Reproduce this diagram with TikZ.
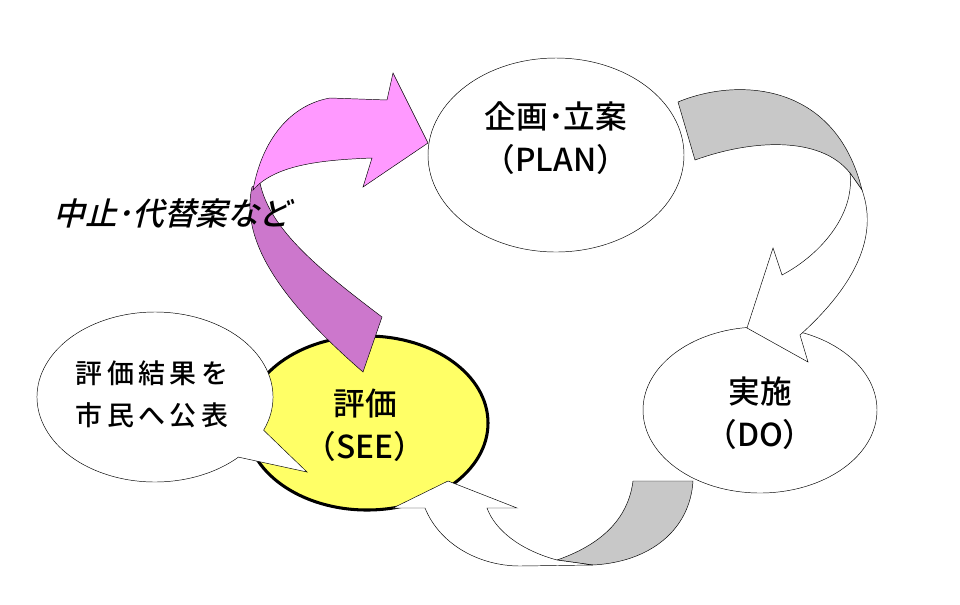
\documentclass[tikz,border=0pt]{standalone}
\usepackage{fontspec}
\setmainfont{Noto Sans CJK JP}
\newfontfamily\jp{Noto Sans CJK JP Medium}
\usetikzlibrary{shapes.geometric}
\definecolor{pinkLight}{HTML}{FF99FF}
\definecolor{pinkDark}{HTML}{CC77CC}
\definecolor{ribbonGrey}{HTML}{C8C8C8}
\definecolor{seeYellow}{HTML}{FFFF66}
\tikzset{stage/.style={draw=black, fill=white, thin}}
\tikzset{ribbon/.style={draw=black, thin, line join=miter}}
\tikzset{label/.style={font=\jp\fontsize{27}{35}\selectfont, align=center}}
\begin{document}
\begin{tikzpicture}[x=0.03cm, y=-0.03cm]
      \useasboundingbox (0,0) rectangle (960,604);
      % Ellipses
      \draw[stage] (556,155) ellipse (128 and 97);
      \draw[stage] (760,410) ellipse (117 and 83);
      \draw[stage, fill=seeYellow, line width=2.6pt] (367,423) ellipse (121 and 87);

      % PLAN -> DO
      \draw[ribbon, fill=ribbonGrey] (678,102) .. controls (735,78) and (835,80) .. (862,190)
        -- (850,173) .. controls (820,135) and (750,140) .. (695,160) -- cycle;
      \draw[ribbon, fill=white] (850,173) .. controls (855,215) and (820,255) .. (782,275)
        -- (773,248) -- (747,328) -- (808,362) -- (800,335)
        .. controls (850,290) and (880,240) .. (862,190) -- cycle;

      % DO -> SEE
      \draw[ribbon, fill=ribbonGrey] (633,481) -- (693,481) .. controls (690,530) and (650,562) .. (593,565)
        -- (557,560) .. controls (600,545) and (628,520) .. (633,481) -- cycle;
      \draw[ribbon, fill=white] (557,560) .. controls (520,550) and (495,530) .. (487,508)
        -- (517,508) -- (448,481) -- (393,508) -- (425,508)
        .. controls (440,545) and (480,566) .. (520,566) -- (593,565) -- cycle;

      % SEE -> PLAN
      \draw[ribbon, fill=pinkDark] (252,187) .. controls (240,240) and (280,300) .. (363,372)
        -- (382,317) .. controls (320,270) and (270,230) .. (260,183) -- cycle;
      \draw[ribbon, fill=pinkLight] (253,190) .. controls (262,140) and (290,105) .. (330,98)
        -- (387,100) -- (393,73) -- (428,143) -- (363,187) -- (372,158)
        .. controls (320,160) and (275,165) .. (253,190) -- cycle;

      % Speech bubble
      \coordinate (bubble) at (155,397);
      \draw[stage] (bubble) ++(23:118 and 85)
        arc[start angle=23, end angle=-315, x radius=118, y radius=85]
        -- (307,472) -- cycle;

      % Texts
      \node[label] (plan) at (556,138) {企画･立案\\[2pt]（PLAN）};
      \node[label] (do) at (760,413) {実施\\[2pt]（DO）};
      \node[label] (see) at (365,425) {評価\\[2pt]（SEE）};
      \node[label, font=\jp\fontsize{23}{36}\selectfont] (publish) at (152,394)
        {評\,価\,結\,果\,を\\市\,民\,へ\,公\,表};
      \node[label, xslant=0.25] (stop) at (175,213) {中止･代替案など};
\end{tikzpicture}
\end{document}
